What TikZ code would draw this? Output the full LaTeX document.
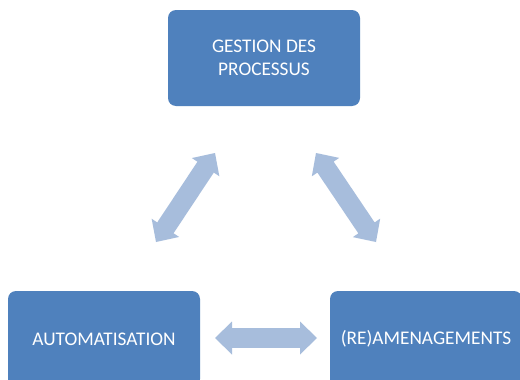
\documentclass[tikz,border=0pt]{standalone}
\usepackage{fontspec}
\setmainfont{Carlito}
\usetikzlibrary{calc}
\definecolor{boxblue}{HTML}{4F81BD}
\definecolor{arrowblue}{HTML}{A7BDDC}
\tikzset{
  procbox/.style={rectangle, rounded corners=8pt, fill=boxblue, text=white,
    minimum width=192pt, minimum height=96pt, inner sep=0pt, align=center,
    font=\fontsize{19.3}{22.5}\selectfont},
  dblarrowfill/.style={fill=arrowblue}
}
\newcommand{\dblarr}[2]{%
  \coordinate (ha) at ($(#1)!17pt!(#2)$);
  \coordinate (hb) at ($(#2)!17pt!(#1)$);
  \fill[dblarrowfill] (#1) -- ($(ha)!16.5pt!90:(#2)$) -- ($(ha)!9.8pt!90:(#2)$)
    -- ($(hb)!9.8pt!-90:(#1)$) -- ($(hb)!16.5pt!-90:(#1)$) -- (#2)
    -- ($(hb)!16.5pt!90:(#1)$) -- ($(hb)!9.8pt!90:(#1)$)
    -- ($(ha)!9.8pt!-90:(#2)$) -- ($(ha)!16.5pt!-90:(#2)$) -- cycle;}
\begin{document}
\begin{tikzpicture}[x=1pt,y=-1pt]
\useasboundingbox (0,0) rectangle (520,380);
\clip (0,0) rectangle (520,380);
\fill[white] (0,0) rectangle (520,380);
\node[procbox] (gp) at (264,58) {GESTION DES\\PROCESSUS};
\node[procbox] (auto) at (104,339) {AUTOMATISATION};
\node[procbox] (ream) at (426,339) {(RE)AMENAGEMENTS};
\coordinate (l1) at (156,242);
\coordinate (l2) at (215,153);
\coordinate (r1) at (316,153);
\coordinate (r2) at (376,242);
\coordinate (h1) at (215,338);
\coordinate (h2) at (317,338);
\dblarr{l1}{l2}
\dblarr{r1}{r2}
\dblarr{h1}{h2}
\end{tikzpicture}
\end{document}
